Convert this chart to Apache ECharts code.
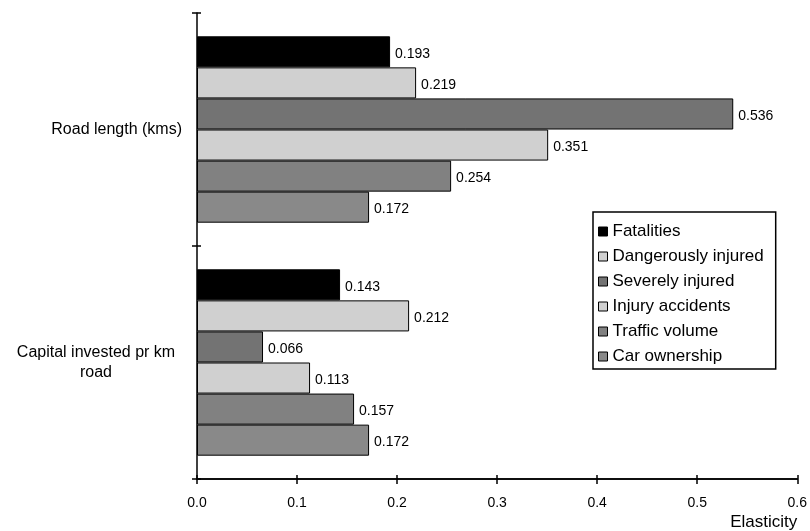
<!DOCTYPE html>
<html>
<head>
<meta charset="utf-8">
<script src="https://cdn.jsdelivr.net/npm/echarts@6/dist/echarts.min.js"></script>
<style>html,body{margin:0;padding:0;background:#fff}#c{width:810px;height:531px}</style>
</head>
<body>
<div id="c"></div>
<script>
const categories = ['Road length (kms)', 'Capital invested pr km\nroad'];
const seriesNames = ['Fatalities', 'Dangerously injured', 'Severely injured', 'Injury accidents', 'Traffic volume', 'Car ownership'];
const fatalities = [0.193, 0.143];
const dangerouslyInjured = [0.219, 0.212];
const severelyInjured = [0.536, 0.066];
const injuryAccidents = [0.351, 0.113];
const trafficVolume = [0.254, 0.157];
const carOwnership = [0.172, 0.172];
const xTicks = [0.0, 0.1, 0.2, 0.3, 0.4, 0.5, 0.6];
const colors = ['#000000', '#d0d0d0', '#737373', '#d0d0d0', '#818181', '#898989'];

const values = [fatalities, dangerouslyInjured, severelyInjured, injuryAccidents, trafficVolume, carOwnership];
const FONT = 'Liberation Sans, Arial, sans-serif';

const chart = echarts.init(document.getElementById('c'));
const grid = { left: 197, right: 10, top: 13, bottom: 52, containLabel: false };
const xBase = {
  type: 'value', min: xTicks[0], max: xTicks[xTicks.length - 1], interval: 0.1,
  splitLine: { show: false },
  axisLine: { show: true, lineStyle: { color: '#000', width: 1.5 } }
};
chart.setOption({
  animation: false,
  backgroundColor: '#fff',
  textStyle: { fontFamily: FONT, color: '#000' },
  grid: grid,
  legend: {
    orient: 'vertical', left: 593, top: 212,
    data: seriesNames,
    icon: 'rect',
    itemWidth: 9, itemHeight: 9, itemGap: 8,
    padding: [11, 12, 4, 5],
    borderColor: '#000', borderWidth: 1.5, backgroundColor: '#fff',
    textStyle: { fontFamily: FONT, fontSize: 17, color: '#000' },
    itemStyle: { borderColor: '#000', borderWidth: 1 }
  },
  xAxis: [
    Object.assign({}, xBase, {
      name: 'Elasticity', nameLocation: 'end', nameGap: 0,
      nameTextStyle: { fontFamily: FONT, fontSize: 17, color: '#000', align: 'right', verticalAlign: 'top', padding: [35, 0, 0, 0] },
      axisTick: { show: true, length: 5, lineStyle: { color: '#000', width: 1.5 } },
      axisLabel: { fontFamily: FONT, fontSize: 14, color: '#000', margin: 17, formatter: v => v.toFixed(1) }
    }),
    Object.assign({}, xBase, {
      position: 'bottom',
      axisTick: { show: true, inside: true, length: 4, lineStyle: { color: '#000', width: 1.5 } },
      axisLabel: { show: false }
    })
  ],
  yAxis: [
    {
      type: 'category', data: categories, inverse: true,
      axisLine: { show: true, lineStyle: { color: '#000', width: 1.5 } },
      axisTick: { show: true, length: 5, lineStyle: { color: '#000', width: 1.5 } },
      axisLabel: {
        fontFamily: FONT, fontSize: 16, color: '#000', margin: 15, lineHeight: 20,
        formatter: function (v) {
          if (v.indexOf('\n') >= 0) {
            return v.split('\n').map(s => '{c|' + s + '}').join('\n');
          }
          return v;
        },
        rich: { c: { fontFamily: FONT, fontSize: 16, color: '#000', width: 172, align: 'center', lineHeight: 20 } }
      }
    },
    {
      type: 'category', data: categories, inverse: true, position: 'left',
      axisLine: { show: false },
      axisTick: { show: true, inside: true, length: 4, lineStyle: { color: '#000', width: 1.5 } },
      axisLabel: { show: false }
    }
  ],
  series: seriesNames.map((n, i) => ({
    name: n, type: 'bar', data: values[i],
    xAxisIndex: 0, yAxisIndex: 0,
    barGap: '0%', barCategoryGap: '20%',
    itemStyle: { color: colors[i], borderColor: '#000', borderWidth: 1 },
    label: {
      show: true, position: 'right', distance: 5, offset: [0, 2],
      fontFamily: FONT, fontSize: 14, color: '#000',
      formatter: p => p.value.toFixed(3)
    }
  }))
});
</script>
</body>
</html>
